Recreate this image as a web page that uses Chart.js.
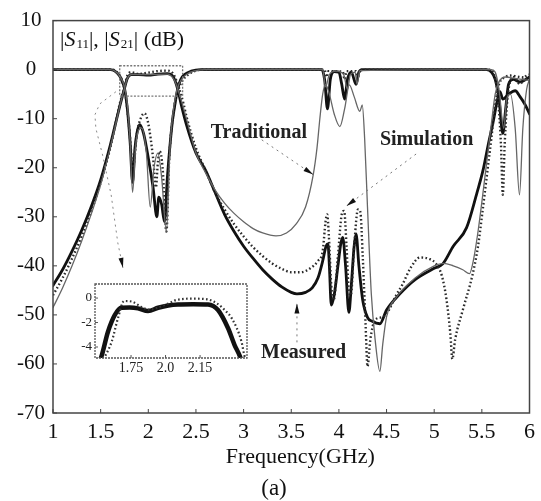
<!DOCTYPE html>
<html>
<head>
<meta charset="utf-8">
<script src="https://cdn.jsdelivr.net/npm/chart.js@4.4.1/dist/chart.umd.min.js"></script>
<style>
  body { margin: 0; background: #fff; }
  #wrap { position: relative; width: 541px; height: 501px; }
  #main { position: absolute; left: 0; top: 0; }
  #inset { position: absolute; left: 62px; top: 270px; }
</style>
</head>
<body>
<div id="wrap">
  <canvas id="main" width="541" height="501"></canvas>
  <canvas id="inset" width="198" height="110"></canvas>
</div>
<script>
// [frequency GHz, dB]
const measS21 = [[1.0,-44],[1.1,-40.8],[1.2,-37],[1.3,-32.8],[1.4,-28],[1.5,-22.5],[1.6,-15.5],[1.65,-11.5],[1.7,-7.5],[1.75,-3.8],[1.78,-1.8],[1.82,-1.0],[1.9,-1.0],[2.0,-1.1],[2.1,-0.9],[2.2,-0.8],[2.25,-1.2],[2.28,-2.2],[2.31,-4.1],[2.35,-7.5],[2.4,-11.2],[2.5,-17],[2.6,-20.5],[2.7,-25],[2.8,-29.5],[2.9,-33],[3.0,-36],[3.1,-38.5],[3.2,-40.8],[3.3,-42.7],[3.4,-44.3],[3.5,-45.4],[3.56,-45.7],[3.65,-45.4],[3.72,-44.5],[3.78,-42.5],[3.83,-39],[3.865,-36],[3.885,-35.5],[3.9,-40],[3.92,-48],[3.95,-46],[3.99,-40],[4.02,-35.5],[4.04,-34.2],[4.07,-40],[4.105,-49.5],[4.13,-44],[4.16,-36],[4.18,-33.5],[4.21,-40],[4.25,-47],[4.3,-50.5],[4.35,-51.3],[4.43,-51.8],[4.5,-49],[4.64,-45.7],[4.8,-42.8],[5.0,-40.5],[5.09,-39.6],[5.2,-36],[5.34,-32.2],[5.45,-25],[5.51,-20.7],[5.57,-15],[5.62,-10.5],[5.66,-6.5],[5.69,-4.5],[5.72,-6],[5.78,-5],[5.85,-4.3],[5.9,-5.5],[5.95,-7],[6.0,-9]];
const simS21 = [[1.0,-46],[1.1,-42.5],[1.2,-38.5],[1.3,-34],[1.4,-29],[1.5,-23],[1.6,-16],[1.65,-11.5],[1.7,-7],[1.75,-3.5],[1.78,-1.2],[1.82,-0.5],[1.9,-0.9],[2.0,-0.6],[2.1,-0.3],[2.2,-0.2],[2.26,-0.8],[2.3,-2.5],[2.33,-4.2],[2.37,-7],[2.4,-9.5],[2.5,-16],[2.6,-20.5],[2.7,-25],[2.8,-28.5],[2.9,-31.5],[3.0,-34],[3.1,-36.2],[3.2,-38],[3.3,-39.5],[3.4,-40.6],[3.5,-41.3],[3.6,-41.3],[3.7,-40.5],[3.78,-39],[3.83,-37],[3.86,-31],[3.877,-29.5],[3.895,-34],[3.92,-44],[3.945,-47],[3.99,-38],[4.03,-29.5],[4.055,-28.8],[4.08,-36],[4.1,-44],[4.125,-46],[4.16,-36],[4.2,-28.5],[4.225,-29],[4.25,-38],[4.28,-52],[4.3,-60.5],[4.33,-55],[4.38,-51],[4.45,-50.5],[4.5,-49.8],[4.6,-46],[4.67,-43.7],[4.75,-40.5],[4.85,-38.3],[4.95,-38.6],[5.02,-39.6],[5.08,-42],[5.13,-47],[5.17,-54],[5.19,-59],[5.22,-55],[5.3,-49],[5.4,-42],[5.46,-36],[5.5,-30],[5.55,-22],[5.6,-14],[5.64,-7],[5.68,-3],[5.75,-1.5],[5.8,-1.2],[5.9,-1.5],[6.0,-1.8]];
const tradS21 = [[1.0,-48.5],[1.1,-44.5],[1.2,-40],[1.3,-35],[1.4,-29.5],[1.5,-23.5],[1.6,-16],[1.65,-11.8],[1.7,-7.5],[1.75,-3.8],[1.78,-1.8],[1.82,-1.0],[2.0,-1.0],[2.2,-0.9],[2.27,-2],[2.31,-4],[2.35,-6.5],[2.4,-10],[2.5,-17],[2.6,-21],[2.7,-24.5],[2.8,-27.2],[2.9,-29.3],[3.0,-31],[3.1,-32.4],[3.2,-33.3],[3.34,-33.9],[3.45,-33.3],[3.55,-31.5],[3.65,-28],[3.73,-21.5],[3.77,-16],[3.8,-10],[3.83,-5],[3.86,-3],[3.9,-5],[3.95,-9],[4.01,-11.6],[4.06,-8],[4.11,-3.1],[4.16,-5.5],[4.22,-8.5],[4.245,-7.2],[4.27,-14],[4.3,-28],[4.34,-45.7],[4.38,-55],[4.43,-61.5],[4.46,-56],[4.5,-50.4],[4.6,-46.5],[4.8,-42.5],[5.0,-40],[5.1,-39.5],[5.2,-40],[5.3,-40.8],[5.37,-41.6],[5.41,-39],[5.46,-33],[5.5,-27],[5.55,-19],[5.6,-11],[5.64,-5],[5.68,-2.5],[5.75,-1.5],[5.85,-1.8],[6.0,-2.2]];
const measS11 = [[1.0,0],[1.6,0],[1.65,-0.3],[1.7,-1.3],[1.73,-2.6],[1.75,-3.8],[1.78,-8],[1.81,-15],[1.835,-23],[1.86,-16],[1.885,-12.5],[1.91,-11.2],[1.95,-13],[2.0,-18],[2.05,-24],[2.09,-30],[2.11,-26],[2.14,-27.5],[2.17,-31],[2.2,-22],[2.25,-11],[2.28,-7],[2.31,-3.8],[2.34,-2],[2.38,-1],[2.45,-0.3],[2.55,0],[3.82,0],[3.85,-2],[3.88,-8],[3.91,-2],[3.95,-0.4],[4.0,-0.5],[4.03,-3],[4.06,-6],[4.09,-2],[4.13,-0.5],[4.18,-3],[4.21,-0.5],[4.25,0],[5.55,0],[5.6,-0.5],[5.64,-2],[5.68,-6],[5.72,-13],[5.75,-8],[5.78,-3],[5.83,-2],[5.9,-2.5],[5.96,-2],[6.0,-1.5]];
const simS11 = [[1.0,0],[1.62,0],[1.67,-0.5],[1.72,-2],[1.76,-5],[1.8,-12],[1.84,-20],[1.88,-13],[1.93,-9.5],[1.96,-8.9],[2.0,-11],[2.05,-18],[2.08,-24],[2.1,-19],[2.12,-16.6],[2.15,-20],[2.19,-33],[2.22,-18],[2.27,-8],[2.31,-4.5],[2.35,-2.5],[2.42,-1],[2.5,-0.2],[2.6,0],[3.85,0],[3.87,-1.5],[3.89,-0.3],[4.04,-0.4],[4.06,-2],[4.08,-0.3],[4.18,-0.3],[4.2,-1.5],[4.22,0],[5.58,0],[5.63,-1],[5.66,-4],[5.7,-15],[5.72,-25.5],[5.74,-15],[5.78,-4],[5.84,-1.5],[5.9,-3],[5.95,-1.5],[6.0,-1]];
const tradS11 = [[1.0,0],[1.6,0],[1.65,-0.3],[1.7,-1.3],[1.75,-3.5],[1.78,-7],[1.81,-15],[1.835,-25],[1.87,-15],[1.93,-11.9],[1.98,-17],[2.02,-28],[2.06,-20],[2.1,-17],[2.14,-22],[2.19,-33],[2.23,-15],[2.28,-6],[2.32,-3],[2.4,-1],[2.5,-0.2],[2.6,0],[3.83,0],[3.86,-3.5],[3.9,-1],[3.97,-0.3],[4.05,-1],[4.09,-4],[4.12,-1],[4.17,-0.5],[4.19,-3],[4.22,-0.2],[5.6,0],[5.64,-0.5],[5.68,-4],[5.73,-12],[5.76,-6],[5.8,-5],[5.85,-12],[5.895,-25.5],[5.93,-12],[5.97,-4],[6.0,-2]];

// inset: passband close-up
const insetMeas = [[1.52,-5.2],[1.535,-4.8],[1.583,-2.75],[1.632,-1.39],[1.68,-0.79],[1.74,-0.78],[1.80,-0.84],[1.873,-1.06],[1.946,-0.79],[2.02,-0.6],[2.09,-0.52],[2.2,-0.5],[2.308,-0.52],[2.38,-0.98],[2.453,-2.47],[2.50,-3.84],[2.54,-4.8],[2.55,-5.2]];
const insetSim = [[1.55,-5],[1.56,-4.8],[1.61,-3.56],[1.655,-1.66],[1.70,-0.24],[1.76,-0.3],[1.82,-0.7],[1.88,-0.95],[1.95,-0.75],[2.03,-0.4],[2.08,-0.15],[2.2,-0.05],[2.3,-0.1],[2.38,-0.5],[2.43,-1.0],[2.48,-1.66],[2.55,-3.56],[2.57,-4.65],[2.58,-5]];
const insetFreqTicks = [1.75, 2.0, 2.25];
const insetFreqLabels = ['1.75', '2.0', '2.15'];
const insetDbTicks = [0, -2, -4];

// annotations, in data units
const zoomBox = [1.70, 0.8, 2.36, -5.4];
const zoomPointer = [[1.66,-4.5],[1.49,-7],[1.44,-9.2],[1.45,-12],[1.52,-17.4],[1.61,-25.5],[1.68,-35.3],[1.734,-40.4]];
const labels = [
  { text: 'Traditional', at: [3.16, -12.8], from: [3.19, -14.3], to: [3.73, -21.4] },
  { text: 'Simulation', at: [4.92, -14.4], from: [4.81, -17.2], to: [4.08, -27.8] },
  { text: 'Measured', at: [3.63, -57.8], from: [3.56, -55.6], to: [3.56, -47.7] }
];

const SERIF = '"Liberation Serif", "DejaVu Serif", serif';
const pts = arr => arr.map(p => ({ x: p[0], y: p[1] }));

function arrowHead(ctx, x0, y0, x1, y1, len, half) {
  const ang = Math.atan2(y1 - y0, x1 - x0);
  ctx.beginPath();
  ctx.moveTo(x1, y1);
  ctx.lineTo(x1 - len * Math.cos(ang) + half * Math.sin(ang), y1 - len * Math.sin(ang) - half * Math.cos(ang));
  ctx.lineTo(x1 - len * Math.cos(ang) - half * Math.sin(ang), y1 - len * Math.sin(ang) + half * Math.cos(ang));
  ctx.closePath();
  ctx.fill();
}

const deco = {
  id: 'deco',
  afterDatasetsDraw(chart) {
    const { ctx, chartArea: a, scales: { x, y } } = chart;
    const px = p => [x.getPixelForValue(p[0]), y.getPixelForValue(p[1])];
    ctx.save();

    // frame and inner ticks
    ctx.strokeStyle = '#444';
    ctx.lineWidth = 1.5;
    ctx.strokeRect(a.left, a.top, a.right - a.left, a.bottom - a.top);
    ctx.lineWidth = 1;
    x.ticks.forEach(t => {
      const xx = x.getPixelForValue(t.value);
      ctx.beginPath(); ctx.moveTo(xx, a.bottom); ctx.lineTo(xx, a.bottom - 4); ctx.stroke();
    });
    y.ticks.forEach(t => {
      const yy = y.getPixelForValue(t.value);
      ctx.beginPath(); ctx.moveTo(a.left, yy); ctx.lineTo(a.left + 4, yy); ctx.stroke();
    });

    // zoom box
    ctx.strokeStyle = '#777';
    ctx.lineWidth = 1.3;
    ctx.setLineDash([2, 1.5]);
    const b0 = px([zoomBox[0], zoomBox[1]]), b1 = px([zoomBox[2], zoomBox[3]]);
    ctx.strokeRect(b0[0], b0[1], b1[0] - b0[0], b1[1] - b0[1]);

    // pointer to inset
    ctx.strokeStyle = '#888';
    ctx.lineWidth = 1;
    ctx.setLineDash([2, 4]);
    ctx.beginPath();
    zoomPointer.forEach((p, i) => { const q = px(p); i ? ctx.lineTo(q[0], q[1]) : ctx.moveTo(q[0], q[1]); });
    ctx.stroke();
    ctx.setLineDash([]);
    ctx.fillStyle = '#111';
    const pe = px(zoomPointer[zoomPointer.length - 1]), pb = px(zoomPointer[zoomPointer.length - 2]);
    arrowHead(ctx, pb[0], pb[1], pe[0], pe[1], 10, 2.5);

    // labelled arrows
    labels.forEach(l => {
      const f = px(l.from), t = px(l.to);
      ctx.strokeStyle = '#777';
      ctx.setLineDash([2, 4]);
      ctx.beginPath(); ctx.moveTo(f[0], f[1]); ctx.lineTo(t[0], t[1]); ctx.stroke();
      ctx.setLineDash([]);
      ctx.fillStyle = '#111';
      arrowHead(ctx, f[0], f[1], t[0], t[1], 10, 2.5);
      const c = px(l.at);
      ctx.font = 'bold 20px ' + SERIF;
      ctx.textAlign = 'center';
      ctx.textBaseline = 'middle';
      ctx.fillStyle = '#222';
      ctx.fillText(l.text, c[0], c[1]);
    });

    // y title inside plot: |S11|, |S21| (dB)
    const parts = [['|', '', 22, 0], ['S', 'italic ', 22, 0], ['11', '', 13, 2], ['|, |', '', 22, 0],
                   ['S', 'italic ', 22, 0], ['21', '', 13, 2], ['| (dB)', '', 22, 0]];
    let tx = a.left + 7;
    const ty = a.top + 25;
    ctx.textAlign = 'left';
    ctx.textBaseline = 'alphabetic';
    ctx.fillStyle = '#111';
    parts.forEach(p => {
      ctx.font = p[1] + p[2] + 'px ' + SERIF;
      ctx.fillText(p[0], tx, ty + p[3]);
      tx += ctx.measureText(p[0]).width + (p[1] ? 1 : 0);
    });

    // axis title and caption
    ctx.textAlign = 'center';
    ctx.textBaseline = 'middle';
    ctx.font = '22px ' + SERIF;
    ctx.fillText('Frequency(GHz)', (a.left + a.right) / 2 + 9, a.bottom + 44);
    ctx.font = '23px ' + SERIF;
    ctx.fillText('(a)', 274, 489);
    ctx.restore();
  }
};

const dotted = { borderColor: '#2a2a2a', borderWidth: 2.4, borderDash: [1.6, 2.4], borderCapStyle: 'butt' };

new Chart(document.getElementById('main'), {
  type: 'line',
  data: {
    datasets: [
      { data: pts(tradS11), borderColor: '#666', borderWidth: 1.3 },
      { data: pts(tradS21), borderColor: '#666', borderWidth: 1.3 },
      { data: pts(simS11), ...dotted },
      { data: pts(simS21), ...dotted },
      { data: pts(measS11), borderColor: '#111', borderWidth: 2.8 },
      { data: pts(measS21), borderColor: '#111', borderWidth: 2.8 }
    ]
  },
  options: {
    responsive: false,
    animation: false,
    elements: {
      point: { radius: 0 },
      line: { cubicInterpolationMode: 'monotone', borderJoinStyle: 'round', borderCapStyle: 'round' }
    },
    layout: { padding: { top: 19, right: 10, left: 0, bottom: 0 } },
    plugins: { legend: { display: false }, tooltip: { enabled: false } },
    scales: {
      x: {
        type: 'linear', min: 1, max: 6,
        grid: { display: false, drawTicks: false },
        border: { display: false },
        ticks: { stepSize: 0.5, padding: 6, color: '#111', font: { family: SERIF, size: 22 }, callback: v => String(v), maxRotation: 0 },
        afterFit: s => { s.height = 88; }
      },
      y: {
        type: 'linear', min: -70, max: 10,
        grid: { display: false, drawTicks: false },
        border: { display: false },
        ticks: { stepSize: 10, padding: 8, crossAlign: 'center', color: '#111', font: { family: SERIF, size: 21 }, callback: v => String(v) },
        afterFit: s => { s.width = 53; }
      }
    }
  },
  plugins: [deco]
});

const insetDeco = {
  id: 'insetDeco',
  beforeDraw(chart) {
    const { ctx, chartArea: a } = chart;
    ctx.save();
    ctx.fillStyle = '#fff';
    ctx.fillRect(a.left, a.top, a.right - a.left, a.bottom - a.top);
    ctx.restore();
  },
  afterDraw(chart) {
    const { ctx, chartArea: a, scales: { x, y } } = chart;
    ctx.save();
    ctx.strokeStyle = '#555';
    ctx.lineWidth = 1.3;
    ctx.setLineDash([2, 1]);
    ctx.strokeRect(a.left, a.top, a.right - a.left, a.bottom - a.top);
    ctx.setLineDash([]);
    ctx.lineWidth = 1;
    x.ticks.forEach(t => {
      const xx = x.getPixelForValue(t.value);
      ctx.beginPath(); ctx.moveTo(xx, a.bottom); ctx.lineTo(xx, a.bottom - 3); ctx.stroke();
    });
    y.ticks.forEach(t => {
      const yy = y.getPixelForValue(t.value);
      ctx.beginPath(); ctx.moveTo(a.left, yy); ctx.lineTo(a.left + 3, yy); ctx.stroke();
    });
    ctx.restore();
  }
};

new Chart(document.getElementById('inset'), {
  type: 'line',
  data: {
    datasets: [
      { data: pts(insetSim), borderColor: '#333', borderWidth: 2.2, borderDash: [1.6, 2.4], borderCapStyle: 'butt' },
      { data: pts(insetMeas), borderColor: '#111', borderWidth: 4.5 }
    ]
  },
  options: {
    responsive: false,
    animation: false,
    elements: {
      point: { radius: 0 },
      line: { cubicInterpolationMode: 'monotone', borderJoinStyle: 'round' }
    },
    layout: { padding: { top: 14, right: 13, left: 0, bottom: 0 } },
    plugins: { legend: { display: false }, tooltip: { enabled: false } },
    scales: {
      x: {
        type: 'linear', min: 1.489, max: 2.59,
        grid: { display: false, drawTicks: false },
        border: { display: false },
        afterBuildTicks: s => { s.ticks = insetFreqTicks.map(v => ({ value: v })); },
        ticks: { padding: 2, autoSkip: false, maxRotation: 0, color: '#222', font: { family: SERIF, size: 14 }, callback: (v, i) => insetFreqLabels[i] },
        afterFit: s => { s.height = 22; }
      },
      y: {
        type: 'linear', min: -4.9, max: 1.15,
        grid: { display: false, drawTicks: false },
        border: { display: false },
        afterBuildTicks: s => { s.ticks = insetDbTicks.map(v => ({ value: v })); },
        ticks: { padding: 3, color: '#222', font: { family: SERIF, size: 13 }, callback: v => String(v) },
        afterFit: s => { s.width = 33; }
      }
    }
  },
  plugins: [insetDeco]
});
</script>
</body>
</html>
